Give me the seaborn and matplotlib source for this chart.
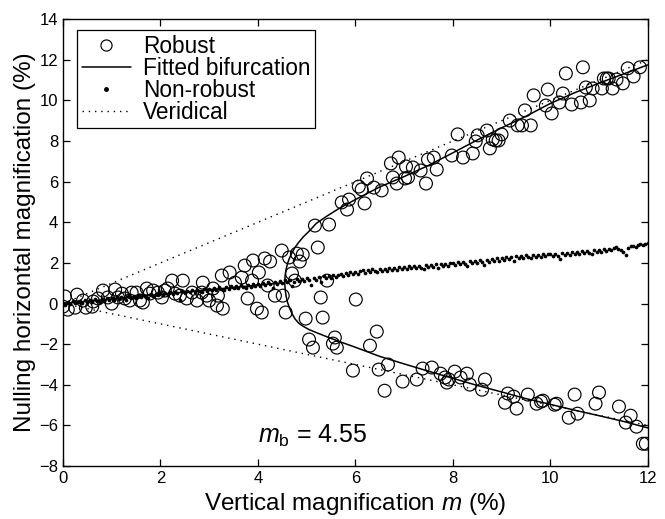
import matplotlib
matplotlib.use("Agg")
import matplotlib.pyplot as plt
from matplotlib.lines import Line2D
import seaborn as sns
import pandas as pd
import numpy as np

# robust trials (open circles): vertical magnification m, nulling horizontal magnification
robust_m = [
    0.00, 0.04, 0.10, 0.29, 0.25, 0.41, 0.47, 0.60, 0.62, 0.72, 0.82, 0.92, 1.00, 1.07, 1.13,
    1.21, 1.27, 1.37, 1.41, 1.51, 1.58, 1.64, 1.72, 1.78, 1.85, 1.95, 2.03, 2.09, 2.15, 2.24,
    2.30, 2.40, 2.46, 2.54, 2.65, 2.75, 2.85, 2.87, 2.95, 3.00, 3.08, 3.16, 3.18, 3.26, 3.28,
    3.42, 3.53, 3.67, 3.73, 3.79, 3.88, 3.90, 3.98, 4.02, 4.08, 4.14, 4.20, 4.25, 4.35, 4.51,
    4.49, 4.64, 4.80, 4.92, 4.86, 4.70, 4.76, 5.42, 4.57, 5.29, 6.01, 4.98, 5.33, 5.23, 5.17,
    5.46, 5.72, 5.87, 5.83, 6.19, 6.07, 6.13, 6.24, 6.38, 6.54, 6.73, 6.89, 6.77, 6.85, 7.04,
    7.02, 7.08, 7.18, 6.44, 5.05, 5.13, 5.54, 5.62, 6.30, 5.58, 5.95, 6.48, 6.67, 6.60, 6.97,
    7.26, 7.38, 7.57, 7.75, 7.84, 7.88, 7.92, 8.04, 8.16, 8.29, 8.35, 8.60, 8.66, 9.07, 9.13,
    9.25, 9.31, 9.54, 9.72, 9.81, 9.85, 10.09, 10.13, 10.38, 10.50, 10.56, 10.93, 11.00, 11.41,
    11.55, 11.65, 11.77, 11.90, 11.96,
    7.34, 7.45, 7.49, 7.61, 7.67, 7.98, 8.10, 8.21, 8.41, 8.47, 8.51, 8.70, 8.76, 8.82, 8.88,
    8.94, 9.00, 9.17, 9.33, 9.42, 9.48, 9.60, 9.66, 9.91, 9.95, 10.03, 10.19, 10.26, 10.32,
    10.44, 10.63, 10.67, 10.73, 10.81, 10.87, 11.06, 11.10, 11.16, 11.20, 11.28, 11.36, 11.49,
    11.59, 11.71, 11.84,
]
robust_y = [
    -0.15, 0.35, -0.30, 0.44, -0.20, 0.15, -0.20, -0.15, 0.10, 0.25, 0.64, 0.30, 0.00, 0.69, 0.30,
    0.49, 0.25, 0.15, 0.54, 0.54, 0.15, 0.05, 0.74, 0.49, 0.64, 0.54, 0.30, 0.64, 0.74, 1.13,
    0.49, 0.39, 1.13, 0.25, 0.54, 0.15, 0.54, 1.03, 0.39, 0.15, 0.74, -0.10, 0.39, 1.38, -0.25,
    1.53, 1.03, 1.28, 1.87, 0.25, 1.13, 2.12, -0.25, 1.53, -0.44, 2.22, 0.89, 2.07, 0.39, 0.39,
    2.61, 2.27, 2.46, 2.41, 2.07, 1.48, 1.13, 1.13, -0.44, 0.30, 0.20, -0.74, -0.69, 2.76, 3.84,
    3.89, 4.98, 5.12, 4.63, 4.93, 5.76, 5.62, 6.16, 5.71, 5.57, 6.90, 7.19, 6.21, 5.91, 6.75,
    6.16, 6.21, 6.70, -1.38, -1.77, -2.17, -1.97, -2.17, -2.07, -1.67, -3.30, -3.25, -3.00, -4.29, -3.84,
    -3.74, -3.20, -3.15, -3.45, -3.64, -3.89, -3.74, -3.35, -3.64, -3.45, -3.99, -4.24, -3.74, -4.88, -4.43,
    -4.58, -5.17, -4.48, -4.93, -4.83, -4.78, -4.98, -4.93, -5.62, -4.48, -5.42, -4.93, -4.38, -5.07,
    -5.86, -5.52, -6.06, -6.90, -6.90,
    6.55, 5.91, 7.09, 7.19, 6.60, 7.29, 8.33, 7.19, 7.39, 7.98, 8.28, 8.52, 7.64, 8.08, 8.03,
    8.03, 8.33, 9.01, 8.77, 8.77, 9.51, 8.77, 10.25, 9.75, 10.54, 9.36, 9.90, 10.34, 11.33,
    9.80, 9.90, 11.63, 10.64, 10.00, 10.59, 10.59, 11.08, 11.08, 11.08, 10.59, 11.03, 10.84,
    11.58, 11.18, 11.63,
]

# non-robust trials (small dots), one every 0.05 % of m from 0 to 12
nonrobust_m = np.round(np.arange(241) * 0.05, 2)
nonrobust_y = [
    0.02, -0.07, 0.08, 0.00, 0.12, 0.02, 0.09, 0.14, 0.04, 0.16, 0.08, 0.18, 0.10, 0.21, 0.12, 0.08, 0.23, 0.15, 0.26, 0.18,
    0.28, 0.18, 0.31, 0.22, 0.33, 0.25, 0.20, 0.35, 0.28, 0.38, 0.26, 0.40, 0.32, 0.43, 0.34, 0.29, 0.45, 0.37, 0.48, 0.40,
    0.50, 0.42, 0.54, 0.45, 0.57, 0.48, 0.59, 0.51, 0.18, 0.60, 0.53, 0.63, 0.55, 0.66, 0.58, 0.68, 0.60, 0.56, 0.71, 0.62,
    0.73, 0.65, 0.77, 0.68, 0.80, 0.71, 0.65, 0.82, 0.73, 0.85, 0.76, 0.88, 0.78, 0.90, 0.81, 0.76, 0.93, 0.84, 0.95, 0.86,
    0.98, 0.88, 1.01, 0.92, 1.04, 0.94, 0.78, 1.08, 0.98, 1.11, 1.02, 1.14, 1.05, 1.16, 0.86, 1.08, 1.19, 1.10, 1.22, 1.13,
    1.24, 1.15, 0.90, 1.27, 1.18, 1.31, 1.08, 1.34, 1.24, 1.37, 1.28, 1.40, 1.31, 1.43, 1.48, 1.36, 1.51, 1.41, 1.54, 1.45,
    1.57, 1.48, 1.60, 1.63, 1.51, 1.65, 1.56, 1.68, 1.59, 1.53, 1.69, 1.61, 1.72, 1.62, 1.74, 1.65, 1.76, 1.66, 1.78, 1.69,
    1.80, 1.70, 1.83, 1.74, 1.85, 1.76, 1.87, 1.77, 1.71, 1.89, 1.80, 1.91, 1.81, 1.93, 1.75, 1.94, 1.85, 1.96, 1.87, 1.98,
    2.00, 1.90, 2.03, 1.93, 2.06, 1.96, 1.85, 2.08, 1.99, 2.11, 2.02, 2.14, 2.04, 1.92, 2.16, 2.07, 2.19, 2.10, 2.22, 2.12,
    2.24, 2.15, 2.27, 2.18, 2.30, 2.12, 2.32, 2.23, 2.35, 2.26, 2.37, 2.28, 2.23, 2.39, 2.30, 2.41, 2.31, 2.42, 2.33, 2.44,
    2.43, 2.35, 2.45, 2.36, 2.20, 2.47, 2.38, 2.50, 2.41, 2.53, 2.44, 2.55, 2.46, 2.58, 2.49, 2.60, 2.51, 2.43, 2.62, 2.54,
    2.65, 2.56, 2.68, 2.59, 2.71, 2.62, 2.75, 2.78, 2.68, 2.63, 2.52, 2.38, 2.72, 2.81, 2.85, 2.80, 2.88, 2.91, 2.86, 2.94,
    2.96,
]

# fitted bifurcation: stem + upper branch, and lower branch
fit_upper_m = [0.00, 4.55, 4.56, 4.58, 4.61, 4.65, 4.70, 4.76, 4.84, 4.93, 5.05, 5.20, 5.40, 5.65,
               6.00, 6.50, 7.00, 7.50, 8.00, 8.50, 9.00, 9.50, 10.00, 10.50, 11.00, 11.50, 12.00]
fit_upper_y = [0.00, 1.03, 1.40, 1.70, 1.98, 2.25, 2.50, 2.76, 3.02, 3.28, 3.56, 3.95, 4.28, 4.66,
               5.12, 5.74, 6.25, 6.80, 7.42, 8.05, 8.65, 9.22, 9.85, 10.38, 10.85, 11.30, 11.75]
fit_lower_m = [4.55, 4.56, 4.58, 4.61, 4.65, 4.70, 4.76, 4.84, 4.93, 5.05, 5.20, 5.40, 5.65,
               6.00, 6.50, 7.00, 7.50, 8.00, 8.50, 9.00, 9.50, 10.00, 10.50, 11.00, 11.50, 12.00]
fit_lower_y = [1.03, 0.70, 0.35, 0.05, -0.22, -0.50, -0.75, -0.97, -1.12, -1.28, -1.43, -1.62, -1.85,
               -2.15, -2.60, -2.97, -3.33, -3.68, -4.03, -4.35, -4.68, -4.96, -5.25, -5.52, -5.80, -6.12]

# veridical predictions
verid_m = [0, 12]
verid_up = [0, 12]
verid_down = [0, -6]

m_b_text = "4.55"

sns.set_style("ticks")
plt.rcParams['font.family'] = ['Liberation Sans', 'DejaVu Sans']
plt.rcParams['mathtext.fontset'] = 'custom'
plt.rcParams['mathtext.rm'] = 'Liberation Sans'
plt.rcParams['mathtext.it'] = 'Liberation Sans:italic'
plt.rcParams['text.color'] = 'black'
plt.rcParams['axes.labelcolor'] = 'black'

fig = plt.figure(figsize=(6.65, 5.19), dpi=100)
ax = fig.add_axes([0.0947, 0.102, 0.8793, 0.861])

dotted = (0, (1, 3.5))
sns.lineplot(x=verid_m, y=verid_up, ax=ax, color='black', lw=1.0, linestyle=dotted)
sns.lineplot(x=verid_m, y=verid_down, ax=ax, color='black', lw=1.0, linestyle=dotted)

sns.lineplot(x=fit_upper_m, y=fit_upper_y, ax=ax, sort=False, estimator=None, color='black', lw=1.1)
sns.lineplot(x=fit_lower_m, y=fit_lower_y, ax=ax, sort=False, estimator=None, color='black', lw=1.1)

sns.scatterplot(x=nonrobust_m, y=nonrobust_y, ax=ax, color='black', s=7, linewidth=0, marker='o')
sns.scatterplot(x=robust_m, y=robust_y, ax=ax, marker='o', s=85,
                facecolors='none', edgecolors='black', linewidth=0.85)

ax.set_xlim(0, 12)
ax.set_ylim(-8, 14)
ax.set_xticks(range(0, 13, 2))
ax.set_yticks(range(-8, 15, 2))
ax.tick_params(direction='in', top=True, right=True, length=5, width=0.9, labelsize=12, colors='black')
for sp in ax.spines.values():
    sp.set_visible(True)
    sp.set_linewidth(1.0)
    sp.set_color('black')

ax.set_xlabel('Vertical magnification $m$ (%)', fontsize=17.5, labelpad=4)
ax.set_ylabel('Nulling horizontal magnification (%)', fontsize=17.5, labelpad=2)

ax.text(4.0, -6.5, r'$m_{\mathrm{b}}$ = ' + m_b_text, fontsize=18, va='center', ha='left')

handles = [
    Line2D([], [], ls='none', marker='o', mfc='none', mec='black', ms=8, mew=0.85),
    Line2D([], [], color='black', lw=1.1),
    Line2D([], [], ls='none', marker='o', color='black', ms=2.5),
    Line2D([], [], color='black', lw=1.0, linestyle=dotted),
]
labels = ['Robust', 'Fitted bifurcation', 'Non-robust', 'Veridical']
leg = ax.legend(handles, labels, loc='upper left', bbox_to_anchor=(0.024, 0.975), fontsize=16.3,
                frameon=True, fancybox=False, edgecolor='black', framealpha=1,
                handlelength=2.2, handletextpad=0.5, labelspacing=-0.05, borderpad=0.2,
                borderaxespad=0)
leg.get_frame().set_linewidth(0.9)

fig.savefig('out.png', dpi=100)
